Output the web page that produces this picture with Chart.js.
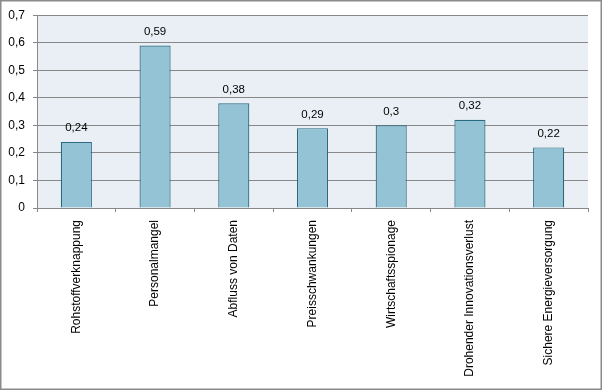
<!DOCTYPE html>
<html>
<head>
<meta charset="utf-8">
<script src="https://cdn.jsdelivr.net/npm/chart.js@4/dist/chart.umd.min.js"></script>
<style>
html,body{margin:0;padding:0;background:#fff;}
#wrap{width:603px;height:391px;position:relative;}
</style>
</head>
<body>
<div id="wrap"><canvas id="c" width="603" height="391"></canvas></div>
<script>
const categories = ["Rohstoffverknappung","Personalmangel","Abfluss von Daten","Preisschwankungen","Wirtschaftsspionage","Drohender Innovationsverlust","Sichere Energieversorgung"];
const values = [0.24, 0.59, 0.38, 0.29, 0.3, 0.32, 0.22];
const yMin = 0, yMax = 0.7, yStep = 0.1;

const fmt = v => String(Math.round(v*100)/100).replace('.', ',');
const FONT = "'Liberation Sans', Arial, sans-serif";

const bgPlugin = {
  id: 'bg',
  beforeDraw(chart) {
    const {ctx, chartArea:a} = chart;
    ctx.save();
    ctx.fillStyle = '#ffffff';
    ctx.fillRect(0,0,chart.width,chart.height);
    ctx.fillStyle = '#e9eff4';
    ctx.fillRect(a.left, a.top, a.right-a.left, a.bottom-a.top);
    ctx.restore();
  },
  afterDraw(chart) {
    const {ctx} = chart;
    ctx.save();
    ctx.strokeStyle = '#8a8a8a';
    ctx.lineWidth = 1.5;
    ctx.strokeRect(0.75, 0.75, 600.5, 388.5);
    ctx.restore();
  }
};

const labelPlugin = {
  id: 'vals',
  afterDatasetsDraw(chart) {
    const {ctx} = chart;
    const meta = chart.getDatasetMeta(0);
    ctx.save();
    ctx.font = "11.5px " + FONT;
    ctx.fillStyle = '#000';
    ctx.textAlign = 'center';
    ctx.textBaseline = 'bottom';
    meta.data.forEach((el, i) => {
      ctx.fillText(fmt(values[i]), el.x, el.y - 8);
    });
    ctx.restore();
  }
};

new Chart(document.getElementById('c'), {
  type: 'bar',
  data: {
    labels: categories,
    datasets: [{
      data: values,
      backgroundColor: '#93c3d4',
      borderColor: '#2a6a80',
      borderWidth: 1.2,
      categoryPercentage: 1,
      barPercentage: 0.395
    }]
  },
  options: {
    responsive: false,
    animation: false,
    devicePixelRatio: 1,
    layout: { padding: { top: 15, right: 15, bottom: 0, left: 0 } },
    plugins: { legend: { display: false }, tooltip: { enabled: false } },
    scales: {
      x: {
        offset: true,
        grid: { offset: true, drawOnChartArea: false, drawTicks: true, tickLength: 4, color: '#888' },
        border: { color: '#888' },
        ticks: { minRotation: 90, maxRotation: 90, autoSkip: false, padding: 8, color: '#000', font: { family: FONT, size: 12 } },
        afterFit(s) { s.height = 183; }
      },
      y: {
        min: yMin, max: yMax,
        grid: { color: '#888', tickLength: 4 },
        border: { color: '#888' },
        ticks: { stepSize: yStep, padding: 8, color: '#000', font: { family: FONT, size: 12 }, callback: v => fmt(v) },
        afterFit(s) { s.width = 37; }
      }
    }
  },
  plugins: [bgPlugin, labelPlugin]
});
</script>
</body>
</html>
